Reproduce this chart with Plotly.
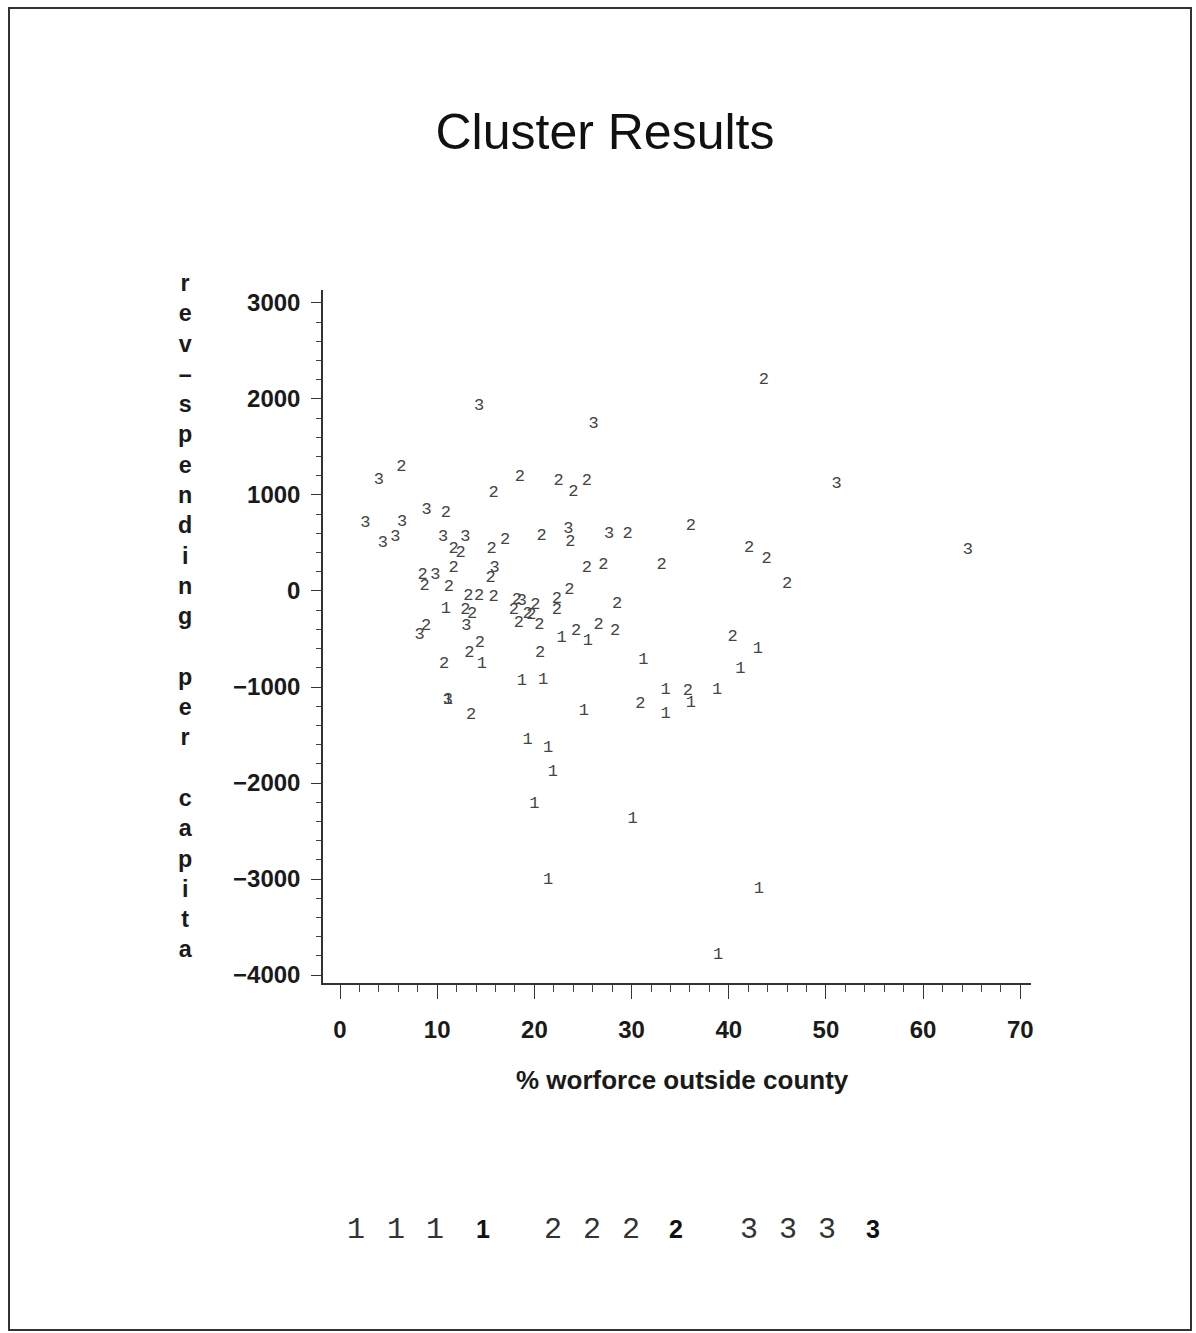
import plotly.graph_objects as go

# ---- data: % workforce outside county vs. revenue minus spending per capita ----
cluster1_x = [10.9, 14.6, 18.7, 20.9, 22.8, 25.5, 31.2, 43.0, 41.2, 33.5, 38.8, 36.1,
              33.5, 11.1, 25.1, 19.3, 21.4, 21.9, 20.0, 30.1, 21.4, 43.1, 38.9]
cluster1_y = [-181, -753, -940, -920, -482, -517, -712, -597, -805, -1024, -1024, -1163,
              -1274, -1128, -1247, -1545, -1628, -1882, -2219, -2368, -3003, -3097, -3792]

cluster2_x = [6.3, 15.8, 18.5, 10.9, 11.7, 12.4, 15.6, 17.0, 11.7, 15.5, 8.5, 8.7,
              11.2, 13.2, 14.3, 15.8, 12.9, 13.6, 8.85, 14.4, 13.3, 10.7, 25.4, 27.1,
              23.6, 18.2, 17.9, 20.1, 19.3, 19.7, 18.4, 20.5, 22.3, 22.3, 28.5, 24.3,
              26.6, 28.3, 20.6, 20.75, 23.7, 29.6, 36.1, 33.1, 43.6, 22.5, 25.4, 24.0,
              42.1, 43.9, 46.0, 40.4, 35.8, 30.9, 13.5]
cluster2_y = [1290, 1020, 1190, 815, 435, 400, 435, 530, 245, 139, 174, 55,
              40, -49, -49, -59, -198, -233, -361, -535, -639, -753, 247, 275,
              18, -86, -198, -146, -235, -250, -330, -354, -76, -198, -128, -413,
              -354, -413, -642, 573, 514, 601, 677, 271, 2205, 1149, 1149, 1034,
              455, 341, 73, -476, -1038, -1170, -1292]

cluster3_x = [4.0, 8.9, 2.6, 6.4, 4.4, 5.7, 10.6, 12.9, 15.9, 9.8, 13.0, 8.2,
              18.7, 23.5, 27.7, 14.3, 26.1, 51.1, 64.6, 11.1]
cluster3_y = [1160, 850, 710, 720, 500, 560, 560, 560, 243, 174, -361, -451,
              -101, 653, 601, 1927, 1740, 1122, 427, -1128]

cluster_labels = ["1", "2", "3"]
x_ticks = [0, 10, 20, 30, 40, 50, 60, 70]
y_ticks = [-4000, -3000, -2000, -1000, 0, 1000, 2000, 3000]

title_text = "Cluster Results"
x_title = "% worforce outside county"
y_title = "rev–spending per capita"

# ---- page geometry (pixels) ----
W, H = 1196, 1333
L, R, T, B = 323, 1031, 290, 983


def fx(px):
    return (px - L) / (R - L)


def fy(py):
    return (B - py) / (B - T)


INK = "#1a1a1a"
POINT_FONT = dict(family="Liberation Mono", size=17, color="#444444")

fig = go.Figure()
series = [(cluster1_x, cluster1_y), (cluster2_x, cluster2_y), (cluster3_x, cluster3_y)]
for label, (xs, ys) in zip(cluster_labels, series):
    fig.add_trace(go.Scatter(
        x=xs, y=ys, mode="text",
        text=[label] * len(xs),
        textposition="middle center",
        textfont=POINT_FONT,
        showlegend=False, hoverinfo="skip",
    ))

tick_font = dict(family="Liberation Sans", size=24, color=INK, weight="bold")

fig.update_xaxes(
    range=[-1.75, 71.1], tickvals=x_ticks, ticktext=[str(v) for v in x_ticks],
    showgrid=False, zeroline=False, showline=True, linecolor="#333333", linewidth=1.5,
    ticks="outside", ticklen=14, tickwidth=1.3, tickcolor="#333333",
    minor=dict(dtick=2, tick0=0, ticks="outside", ticklen=7, tickwidth=1.1,
               tickcolor="#444444", showgrid=False),
    tickfont=tick_font, ticklabelstandoff=10,
)
fig.update_yaxes(
    range=[-4083, 3135], tickvals=y_ticks,
    showgrid=False, zeroline=False, showline=True, linecolor="#333333", linewidth=1.5,
    ticks="outside", ticklen=10, tickwidth=1.3, tickcolor="#333333",
    minor=dict(dtick=200, tick0=0, ticks="outside", ticklen=5, tickwidth=1.1,
               tickcolor="#444444", showgrid=False),
    tickfont=tick_font, ticklabelstandoff=6,
)

annotations = [
    # x-axis title
    dict(text=x_title, x=fx(682), y=fy(1080), xref="paper", yref="paper",
         showarrow=False, xanchor="center", yanchor="middle",
         font=dict(family="Liberation Sans", size=26, color=INK, weight="bold")),
    # y-axis title, stacked one letter per line
    dict(text="<br>".join(y_title),
         x=fx(185), y=fy(616), xref="paper", yref="paper",
         showarrow=False, xanchor="center", yanchor="middle", align="center",
         font=dict(family="Liberation Sans", size=23.3, color=INK, weight="bold")),
]

# symbol key along the bottom
key_light = {"1": [356, 396, 435], "2": [553, 592, 631], "3": [749, 788, 827]}
key_bold = {"1": 483, "2": 676, "3": 873}
for label in cluster_labels:
    for px in key_light[label]:
        annotations.append(dict(
            text=label, x=fx(px), y=fy(1230), xref="paper", yref="paper",
            showarrow=False, xanchor="center", yanchor="middle",
            font=dict(family="Liberation Mono", size=30, color="#333333")))
    annotations.append(dict(
        text=label, x=fx(key_bold[label]), y=fy(1229), xref="paper", yref="paper",
        showarrow=False, xanchor="center", yanchor="middle",
        font=dict(family="Liberation Sans", size=25, color="#111111", weight="bold")))

fig.update_layout(
    width=W, height=H,
    margin=dict(l=L, r=W - R, t=T, b=H - B, pad=0),
    paper_bgcolor="white", plot_bgcolor="white",
    title=dict(text=title_text, x=605 / W, y=1 - 131 / H, xref="container",
               yref="container", xanchor="center", yanchor="middle",
               font=dict(family="Liberation Sans", size=50, color="#111111")),
    annotations=annotations,
    shapes=[dict(type="rect", xref="paper", yref="paper",
                 x0=fx(9), x1=fx(1191), y0=fy(1330), y1=fy(8),
                 line=dict(color="#333333", width=2))],
)

fig.write_html("out.html")
